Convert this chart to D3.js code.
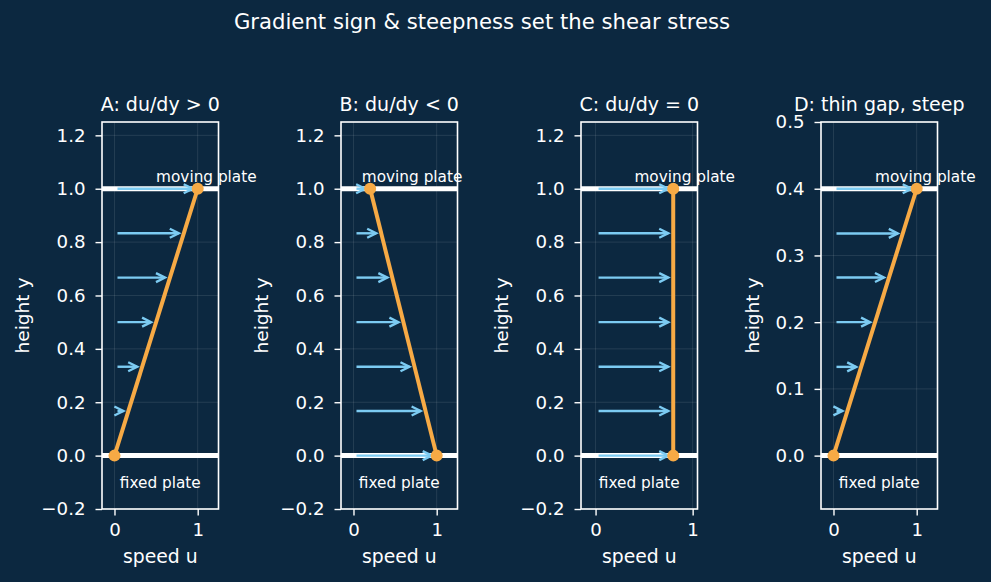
<!DOCTYPE html>
<html>
<head>
<meta charset="utf-8">
<script src="https://cdn.jsdelivr.net/npm/d3@7"></script>
<style>
  html, body { margin: 0; padding: 0; background: #0c2840; }
  svg { display: block; font-family: "DejaVu Sans", sans-serif; }
</style>
</head>
<body>
<div id="chart"></div>
<script>
// DATA ----------------------------------------------
const suptitle = "Gradient sign & steepness set the shear stress";
const panelTitles = ["A: du/dy > 0", "B: du/dy < 0", "C: du/dy = 0", "D: thin gap, steep"];
const gapHeights = [1, 1, 1, 0.4];
const uBottom = [0, 1, 0.8, 0];
const uTop = [1, 0.2, 0.8, 1];

// arrow heights and speeds
const arrowY = [
  [0, 0.167, 0.333, 0.5, 0.667, 0.833, 1.0],
  [0, 0.167, 0.333, 0.5, 0.667, 0.833, 1.0],
  [0, 0.167, 0.333, 0.5, 0.667, 0.833, 1.0],
  [0, 0.067, 0.133, 0.2, 0.267, 0.333, 0.4],
];
const arrowU = [
  [0, 0.167, 0.333, 0.5, 0.667, 0.833, 1.0],
  [1.0, 0.867, 0.733, 0.6, 0.467, 0.333, 0.2],
  [0.8, 0.8, 0.8, 0.8, 0.8, 0.8, 0.8],
  [0, 0.167, 0.333, 0.5, 0.667, 0.833, 1.0],
];

const xDomains = [[-0.15, 1.25], [-0.15, 1.25], [-0.15, 1.05], [-0.15, 1.25]];
const yDomains = [[-0.2, 1.25], [-0.2, 1.25], [-0.2, 1.25], [-0.08, 0.5]];
const xTicks = [0, 1];
const yTicks = [
  [-0.2, 0, 0.2, 0.4, 0.6, 0.8, 1.0, 1.2],
  [-0.2, 0, 0.2, 0.4, 0.6, 0.8, 1.0, 1.2],
  [-0.2, 0, 0.2, 0.4, 0.6, 0.8, 1.0, 1.2],
  [0, 0.1, 0.2, 0.3, 0.4, 0.5],
];

// LAYOUT --------------------------------------------
const W = 991, H = 582;
const bg = "#0c2840", fg = "#ffffff";
const orange = "#f7aa45", blue = "#7ccbf2";
const axLeft = [102, 341, 581, 821];
const axWidth = 116.5;
const axTop = 122, axBottom = 509;

const svg = d3.select("#chart").append("svg")
  .attr("width", W).attr("height", H);
svg.append("rect").attr("width", W).attr("height", H).attr("fill", bg);

svg.append("text")
  .attr("x", 482).attr("y", 29)
  .attr("text-anchor", "middle")
  .attr("fill", fg).attr("font-size", 21.2)
  .text(suptitle);

function drawPanel(i) {
  const x = d3.scaleLinear().domain(xDomains[i]).range([axLeft[i], axLeft[i] + axWidth]);
  const y = d3.scaleLinear().domain(yDomains[i]).range([axBottom, axTop]);
  const h = gapHeights[i];
  const g = svg.append("g");

  // grid
  g.selectAll(".gy").data(yTicks[i]).enter().append("line")
    .attr("x1", x.range()[0]).attr("x2", x.range()[1])
    .attr("y1", (d) => y(d)).attr("y2", (d) => y(d))
    .attr("stroke", "rgba(255,255,255,0.13)").attr("stroke-width", 0.8);
  g.selectAll(".gx").data(xTicks).enter().append("line")
    .attr("x1", (d) => x(d)).attr("x2", (d) => x(d))
    .attr("y1", axTop).attr("y2", axBottom)
    .attr("stroke", "rgba(255,255,255,0.13)").attr("stroke-width", 0.8);

  // plates
  g.selectAll(".plate").data([0, h]).enter().append("line")
    .attr("x1", x.range()[0]).attr("x2", x.range()[1])
    .attr("y1", (d) => y(d)).attr("y2", (d) => y(d))
    .attr("stroke", fg).attr("stroke-width", 5);

  // arrows
  const arrows = arrowY[i].map((v, k) => ({ y: v, u: arrowU[i][k] })).filter((d) => d.u > 0);
  arrows.forEach((d) => {
    const yy = y(d.y);
    const x0 = x(0) + 3;
    const x1 = x(d.u) - 5;
    if (x1 > x0) {
      g.append("line").attr("x1", x0).attr("x2", x1).attr("y1", yy).attr("y2", yy)
        .attr("stroke", blue).attr("stroke-width", 2.4);
    }
    g.append("path")
      .attr("d", "M" + (x1 - 9) + "," + (yy - 4.5) + "L" + x1 + "," + yy + "L" + (x1 - 9) + "," + (yy + 4.5))
      .attr("fill", "none").attr("stroke", blue).attr("stroke-width", 2.4)
      .attr("stroke-linejoin", "miter");
  });

  // velocity profile
  const prof = [{ u: uBottom[i], y: 0 }, { u: uTop[i], y: h }];
  g.append("path").datum(prof)
    .attr("d", d3.line().x((d) => x(d.u)).y((d) => y(d.y)))
    .attr("stroke", orange).attr("stroke-width", 4).attr("fill", "none");
  g.selectAll(".dot").data(prof).enter().append("circle")
    .attr("cx", (d) => x(d.u)).attr("cy", (d) => y(d.y)).attr("r", 6)
    .attr("fill", orange);

  // labels inside
  g.append("text")
    .attr("x", x(uTop[i] / 2)).attr("y", y(h) - 7)
    .attr("fill", fg).attr("font-size", 15.3)
    .text("moving plate");
  g.append("text")
    .attr("x", axLeft[i] + axWidth / 2).attr("y", y(-0.1 * h) + 5.5)
    .attr("text-anchor", "middle")
    .attr("fill", fg).attr("font-size", 15.3)
    .text("fixed plate");

  // spines
  g.append("rect")
    .attr("x", axLeft[i]).attr("y", axTop)
    .attr("width", axWidth).attr("height", axBottom - axTop)
    .attr("fill", "none").attr("stroke", fg).attr("stroke-width", 1.6);

  // axes
  const xAxis = g.append("g")
    .attr("transform", "translate(0," + axBottom + ")")
    .call(d3.axisBottom(x).tickValues(xTicks).tickFormat(d3.format("d")).tickSize(6.5).tickPadding(8));
  const yAxis = g.append("g")
    .attr("transform", "translate(" + axLeft[i] + ",0)")
    .call(d3.axisLeft(y).tickValues(yTicks[i]).tickFormat(d3.format(".1f")).tickSize(6.5).tickPadding(10));
  [xAxis, yAxis].forEach((a) => {
    a.select(".domain").remove();
    a.selectAll("line").attr("stroke", fg).attr("stroke-width", 1.4);
    a.selectAll("text").attr("fill", fg).attr("font-size", 18.2).attr("font-family", "DejaVu Sans");
  });

  // titles
  g.append("text")
    .attr("x", axLeft[i] + axWidth / 2).attr("y", 110.5)
    .attr("text-anchor", "middle")
    .attr("fill", fg).attr("font-size", 19)
    .text(panelTitles[i]);
  g.append("text")
    .attr("x", axLeft[i] + axWidth / 2).attr("y", 563)
    .attr("text-anchor", "middle")
    .attr("fill", fg).attr("font-size", 18.8)
    .text("speed u");
  const ylx = i === 3 ? axLeft[i] - 62 : axLeft[i] - 73;
  g.append("text")
    .attr("transform", "translate(" + ylx + "," + (axTop + axBottom) / 2 + ") rotate(-90)")
    .attr("text-anchor", "middle")
    .attr("fill", fg).attr("font-size", 18.5)
    .text("height y");
}

for (let i = 0; i < 4; i++) drawPanel(i);
</script>
</body>
</html>
